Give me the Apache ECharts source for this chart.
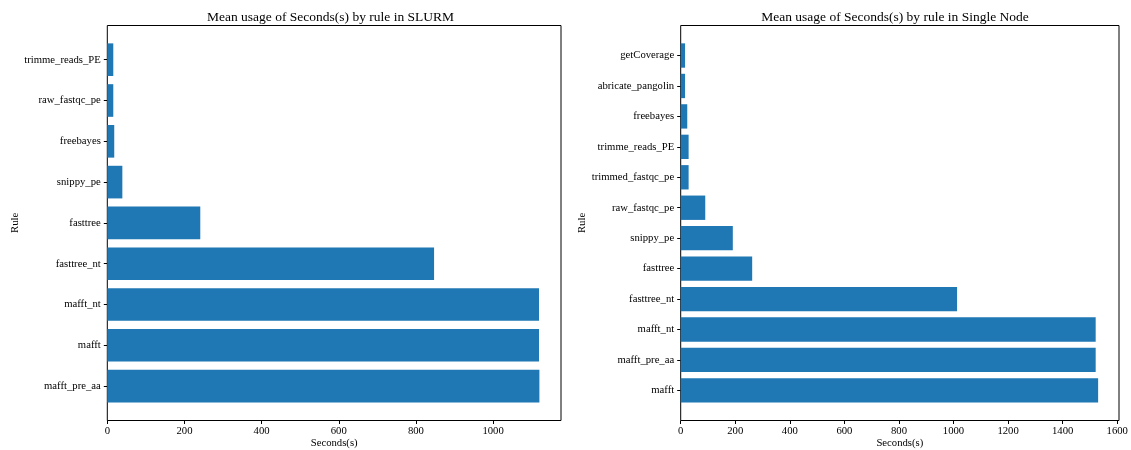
<!DOCTYPE html>
<html>
<head>
<meta charset="utf-8">
<title>Mean usage of Seconds(s) by rule</title>
<script src="https://cdn.jsdelivr.net/npm/echarts@6/dist/echarts.min.js"></script>
<style>
  html, body { margin: 0; padding: 0; background: #fff; }
  #chart { width: 1131px; height: 450px; }
</style>
</head>
<body>
<div id="chart"></div>
<script>
// Categories are listed bottom-to-top (ECharts draws the first category at the bottom).
const slurmRules = ['mafft_pre_aa', 'mafft', 'mafft_nt', 'fasttree_nt', 'fasttree',
  'snippy_pe', 'freebayes', 'raw_fastqc_pe', 'trimme_reads_PE'];
const slurmSeconds = [1120, 1119, 1119, 847, 241, 39, 18, 15.5, 15.5];

const nodeRules = ['mafft', 'mafft_pre_aa', 'mafft_nt', 'fasttree_nt', 'fasttree',
  'snippy_pe', 'raw_fastqc_pe', 'trimmed_fastqc_pe', 'trimme_reads_PE', 'freebayes',
  'abricate_pangolin', 'getCoverage'];
const nodeSeconds = [1530, 1521, 1521, 1013, 262, 191, 90, 29, 29, 24, 16, 16];

const slurmTicks = [0, 200, 400, 600, 800, 1000];
const nodeTicks = [0, 200, 400, 600, 800, 1000, 1200, 1400, 1600];

const FONT = '"Liberation Serif", "DejaVu Serif", "Times New Roman", serif';
const BAR = '#1f77b4';

// x range padded 5% beyond the longest bar
const slurmMax = Math.max(...slurmSeconds) * 1.05;
const nodeMax = Math.max(...nodeSeconds) * 1.05;

const W = 1131;
const panels = [
  { left: 107.3, right: W - 561, barTop: 39.3, barHeight: 367.2, titleX: 325.5,
    title: 'Mean usage of Seconds(s) by rule in SLURM' },
  { left: 680.7, right: W - 1119, barTop: 40.3, barHeight: 365.3, titleX: 890,
    title: 'Mean usage of Seconds(s) by rule in Single Node' }
];

function frameGrid(p) {
  return { left: p.left, right: p.right, top: 25.5, bottom: 29.5, show: true,
    outerBoundsMode: 'none', containLabel: false,
    borderColor: '#000', borderWidth: 1, backgroundColor: 'transparent' };
}
function barGrid(p) {
  return { left: p.left, right: p.right, top: p.barTop, height: p.barHeight,
    outerBoundsMode: 'none', containLabel: false };
}

function tickAxis(gridIndex, max, ticks) {
  return {
    type: 'value', gridIndex, min: 0, max, interval: 200,
    axisLine: { show: false },
    axisTick: { show: true, length: 3.5, lineStyle: { color: '#000', width: 1 } },
    axisLabel: {
      show: true, margin: 5, fontFamily: FONT, fontSize: 10.7, color: '#000',
      showMaxLabel: false,
      formatter: v => (ticks.includes(v) ? String(v) : '')
    },
    splitLine: { show: false },
    name: 'Seconds(s)', nameLocation: 'middle', nameGap: 17, nameMoveOverlap: false,
    nameTextStyle: { fontFamily: FONT, fontSize: 10.7, color: '#000' }
  };
}

function categoryAxis(gridIndex, cats, nameGap) {
  return {
    type: 'category', gridIndex, data: cats,
    axisLine: { show: false },
    axisTick: { show: true, length: 3.5, alignWithLabel: true, lineStyle: { color: '#000', width: 1 } },
    axisLabel: { interval: 0, margin: 6.5, fontFamily: FONT, fontSize: 10.7, color: '#000' },
    name: 'Rule', nameLocation: 'middle', nameGap, nameRotate: 90,
    nameTextStyle: { fontFamily: FONT, fontSize: 10.7, color: '#000' }
  };
}

function titleOf(p) {
  return { text: p.title, left: p.titleX, top: 5, textAlign: 'center',
    textStyle: { fontFamily: FONT, fontSize: 13.5, fontWeight: 'normal', color: '#000' } };
}

const option = {
  animation: false,
  backgroundColor: '#fff',
  textStyle: { fontFamily: FONT, color: '#000' },
  title: [titleOf(panels[0]), titleOf(panels[1])],
  grid: [frameGrid(panels[0]), barGrid(panels[0]), frameGrid(panels[1]), barGrid(panels[1])],
  xAxis: [
    tickAxis(0, slurmMax, slurmTicks),
    { type: 'value', gridIndex: 1, min: 0, max: slurmMax, show: false },
    tickAxis(2, nodeMax, nodeTicks),
    { type: 'value', gridIndex: 3, min: 0, max: nodeMax, show: false }
  ],
  yAxis: [
    { type: 'value', gridIndex: 0, min: 0, max: 1, show: false },
    categoryAxis(1, slurmRules, 84),
    { type: 'value', gridIndex: 2, min: 0, max: 1, show: false },
    categoryAxis(3, nodeRules, 91)
  ],
  series: [
    { type: 'bar', xAxisIndex: 1, yAxisIndex: 1, data: slurmSeconds,
      barCategoryGap: '20%', itemStyle: { color: BAR } },
    { type: 'bar', xAxisIndex: 3, yAxisIndex: 3, data: nodeSeconds,
      barCategoryGap: '20%', itemStyle: { color: BAR } }
  ]
};

const chart = echarts.init(document.getElementById('chart'), null, { renderer: 'canvas' });
chart.setOption(option);
</script>
</body>
</html>
